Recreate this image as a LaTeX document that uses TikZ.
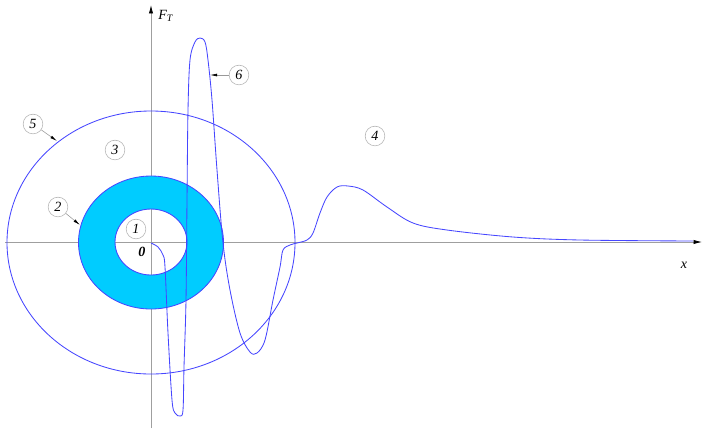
\documentclass[tikz,border=0pt]{standalone}
\usepackage{fontspec}
\setmainfont{Liberation Serif}
\usepackage{xcolor}
\usetikzlibrary{arrows.meta,positioning}

\definecolor{ringfill}{RGB}{0,204,255}
\definecolor{curveblue}{RGB}{70,70,255}

\tikzset{
    axis/.style={draw=gray!75, line width=0.5pt, -{Latex[black,length=6pt,width=3pt]}},
    marker/.style={circle, draw=gray!60, line width=0.4pt, minimum size=14pt, inner sep=0pt, font=\itshape},
    leader/.style={draw=gray!80, line width=0.4pt, -{Latex[black,length=5pt,width=2pt]}},
    curve/.style={draw=curveblue, line width=0.6pt}
}

\begin{document}
\begin{tikzpicture}[x=0.025cm, y=-0.025cm]
        \useasboundingbox (0,0) rectangle (702,430);

        % Axes
        \coordinate (O) at (151,242);
        \draw[axis] (151,428) -- (151,5);
        \draw[axis] (5,242) -- (702,242);
        \node (FT) at (166,16) {\textit{F}\textsubscript{\textit{T}}};
        \node (xlab) at (684,265) {\textit{x}};
        \node (zero) at (142,252) {\textit{\textbf{0}}};

        % Outer boundary
        \draw[curve] (151,242.5) ellipse [x radius=144, y radius=131.5];

        % Ring
        \path[fill=ringfill, draw=curveblue, line width=0.6pt, even odd rule]
            (151,242.5) ellipse [x radius=72.5, y radius=66.5]
            (151,242) ellipse [x radius=36, y radius=33];

        % Force curve
        \draw[curve] plot[smooth, tension=0.55] coordinates {
            (151,243) (158,247) (163,255) (165,267) (168,333) (172,400) (175,413)
            (180,416) (183,410) (184,367) (186,300) (187,200) (188,110) (190,60)
            (195,42) (200,38) (205,42) (208,60) (212,100) (217,170) (223,243)
            (230,290) (240,333) (250,352) (257,353) (265,340) (273,300) (280,267)
            (283,250) (290,245) (297,243) (307,240) (313,233) (320,213) (327,197)
            (337,187) (348,186) (363,190) (387,207) (413,223) (447,230) (513,237)
            (580,240) (693,241)};

        % Region markers
        \node[marker] (m1) at (136,229) {1};
        \node[marker] (m2) at (58,207) {2};
        \node[marker] (m3) at (115,150) {3};
        \node[marker] (m4) at (375,136) {4};
        \node[marker] (m5) at (33,124) {5};
        \node[marker] (m6) at (239,75) {6};

        % Leaders
        \coordinate (p2) at (80,225);
        \coordinate (p5) at (57,141);
        \coordinate (p6) at (210,75);
        \draw[leader] (m2) -- (p2);
        \draw[leader] (m5) -- (p5);
        \draw[leader] (m6) -- (p6);
    \end{tikzpicture}
\end{document}
